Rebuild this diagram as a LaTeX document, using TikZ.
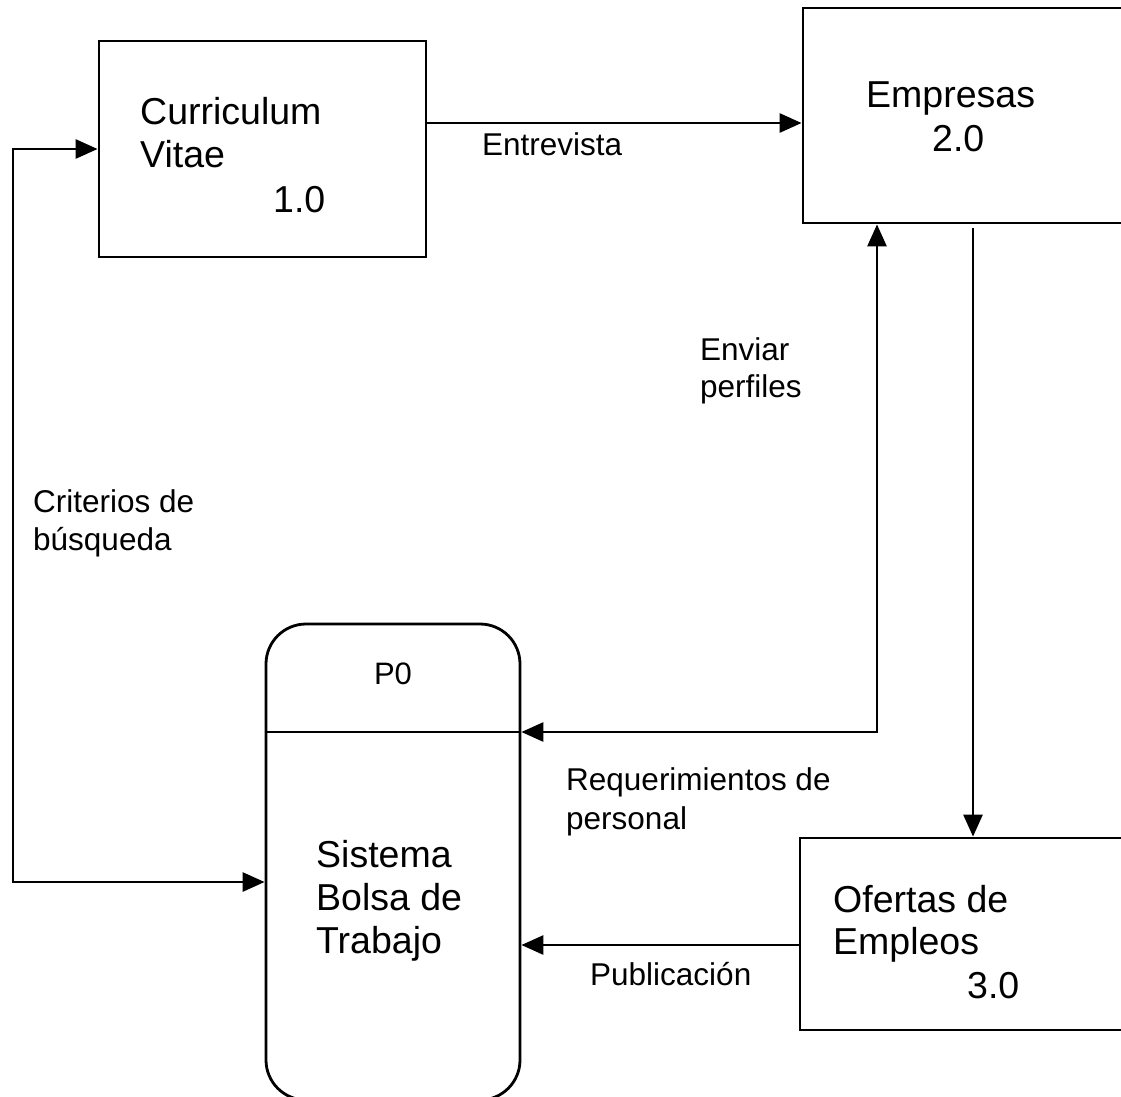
\documentclass[tikz,border=0pt]{standalone}
\usepackage{fontspec}
\setmainfont{Liberation Sans}
\usetikzlibrary{arrows.meta,calc}
\begin{document}
\begin{tikzpicture}[x=1pt,y=-1pt,
  boxline/.style={draw,line width=2.8pt,inner sep=0pt},
  flow/.style={line width=2.8pt,-{Triangle[length=22pt,width=19pt]}},
  flowboth/.style={line width=2.8pt,{Triangle[length=22pt,width=19pt]}-{Triangle[length=22pt,width=19pt]}},
  bigtxt/.style={anchor=base west,inner sep=0pt,font=\fontsize{37.5}{43}\selectfont},
  lbl/.style={anchor=base west,inner sep=0pt,font=\fontsize{31.5}{36}\selectfont},
  ptxt/.style={anchor=base,inner sep=0pt,font=\fontsize{31}{36}\selectfont}]
\useasboundingbox (0,0) rectangle (1121,1096);
% boxes
\node[boxline,rectangle,minimum width=327pt,minimum height=216pt] (cv) at (262.5,149) {};
\node[boxline,rectangle,minimum width=337pt,minimum height=215pt] (emp) at (971.5,115.5) {};
\node[boxline,rectangle,minimum width=340pt,minimum height=192pt] (ofe) at (970,934) {};
\node[boxline,rectangle,rounded corners=40pt,minimum width=254pt,minimum height=476pt] (p0) at (393,862) {};
\draw[line width=2.8pt] (p0.west |- 0,732) -- (p0.east |- 0,732);
% texts in boxes
\node[bigtxt] (cv1) at (140,124) {Curriculum};
\node[bigtxt] (cv2) at (140,167) {Vitae};
\node[bigtxt] (cv3) at (273,212) {1.0};
\node[bigtxt] (em1) at (866,107) {Empresas};
\node[bigtxt] (em2) at (932,151) {2.0};
\node[bigtxt] (of1) at (833,912) {Ofertas de};
\node[bigtxt] (of2) at (833,954) {Empleos};
\node[bigtxt] (of3) at (967,998) {3.0};
\node[ptxt] (pt0) at (393,684) {P0};
\node[bigtxt] (sb1) at (316,867) {Sistema};
\node[bigtxt] (sb2) at (316,910) {Bolsa de};
\node[bigtxt] (sb3) at (316,953) {Trabajo};
% connectors
\draw[flow] (cv.east |- 0,123) -- (emp.west |- 0,123);
\draw[flowboth] (cv.west |- 0,149) -- (13,149) -- (13,882) -- (p0.west |- 0,882);
\draw[flowboth] (p0.east |- 0,732) -- (877,732) -- (emp.south -| 877,0);
\draw[flow,shorten <=4pt] (emp.south -| 973,0) -- (ofe.north -| 973,0);
\draw[flow] (ofe.west |- 0,945) -- (p0.east |- 0,945);
% labels
\node[lbl] (l1) at (482,155) {Entrevista};
\node[lbl] (l2) at (700,360) {Enviar};
\node[lbl] (l3) at (700,397) {perfiles};
\node[lbl] (l4) at (33,512) {Criterios de};
\node[lbl] (l5) at (33,550) {búsqueda};
\node[lbl] (l6) at (566,790) {Requerimientos de};
\node[lbl] (l7) at (566,829) {personal};
\node[lbl] (l8) at (590,985) {Publicación};
\end{tikzpicture}
\end{document}
